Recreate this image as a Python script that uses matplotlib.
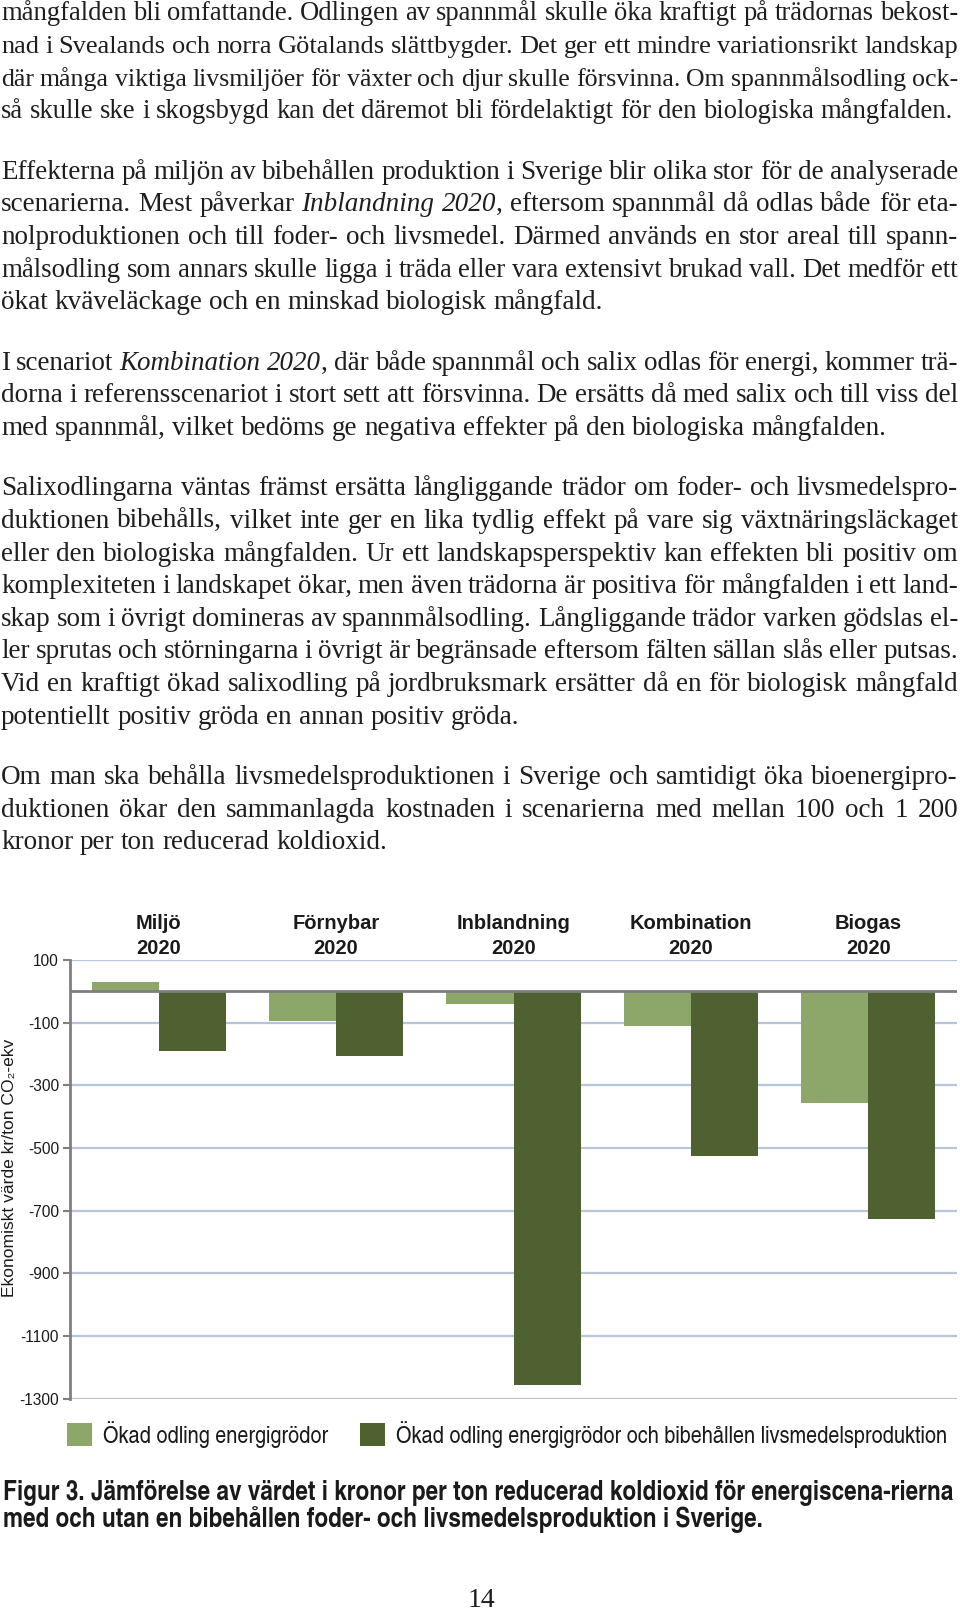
import matplotlib
matplotlib.use("Agg")
import matplotlib.pyplot as plt
import matplotlib.transforms as mtransforms
import numpy as np
from matplotlib import font_manager

W, H = 960, 1612

# chart data
categories = ["Miljö\n2020", "Förnybar\n2020", "Inblandning\n2020", "Kombination\n2020", "Biogas\n2020"]
energy_only = [30, -95, -40, -110, -355]
energy_and_food = [-190, -205, -1255, -525, -725]
series_names = ["Ökad odling energigrödor",
                "Ökad odling energigrödor och bibehållen livsmedelsproduktion"]
y_ticks = [100, -100, -300, -500, -700, -900, -1100, -1300]
y_title = "Ekonomiskt värde kr/ton CO₂-ekv"
caption = ["Figur 3. Jämförelse av värdet i kronor per ton reducerad koldioxid för energiscena-rierna",
           "med och utan en bibehållen foder- och livsmedelsproduktion i Sverige."]
page_no = "14"

# body text, one entry per printed line, *...* marks italic
paragraphs = [
    ["mångfalden bli omfattande. Odlingen av spannmål skulle öka kraftigt på trädornas bekost-",
     "nad i Svealands och norra Götalands slättbygder. Det ger ett mindre variationsrikt landskap",
     "där många viktiga livsmiljöer för växter och djur skulle försvinna. Om spannmålsodling ock-",
     "så skulle ske i skogsbygd kan det däremot bli fördelaktigt för den biologiska mångfalden."],
    ["Effekterna på miljön av bibehållen produktion i Sverige blir olika stor för de analyserade",
     "scenarierna. Mest påverkar *Inblandning 2020*, eftersom spannmål då odlas både för eta-",
     "nolproduktionen och till foder- och livsmedel. Därmed används en stor areal till spann-",
     "målsodling som annars skulle ligga i träda eller vara extensivt brukad vall. Det medför ett",
     "ökat kväveläckage och en minskad biologisk mångfald."],
    ["I scenariot *Kombination 2020*, där både spannmål och salix odlas för energi, kommer trä-",
     "dorna i referensscenariot i stort sett att försvinna. De ersätts då med salix och till viss del",
     "med spannmål, vilket bedöms ge negativa effekter på den biologiska mångfalden."],
    ["Salixodlingarna väntas främst ersätta långliggande trädor om foder- och livsmedelspro-",
     "duktionen bibehålls, vilket inte ger en lika tydlig effekt på vare sig växtnäringsläckaget",
     "eller den biologiska mångfalden. Ur ett landskapsperspektiv kan effekten bli positiv om",
     "komplexiteten i landskapet ökar, men även trädorna är positiva för mångfalden i ett land-",
     "skap som i övrigt domineras av spannmålsodling. Långliggande trädor varken gödslas el-",
     "ler sprutas och störningarna i övrigt är begränsade eftersom fälten sällan slås eller putsas.",
     "Vid en kraftigt ökad salixodling på jordbruksmark ersätter då en för biologisk mångfald",
     "potentiellt positiv gröda en annan positiv gröda."],
    ["Om man ska behålla livsmedelsproduktionen i Sverige och samtidigt öka bioenergipro-",
     "duktionen ökar den sammanlagda kostnaden i scenarierna med mellan 100 och 1 200",
     "kronor per ton reducerad koldioxid."],
]

LIGHT = "#8da66a"
DARK = "#4f6131"
TEXT = "#1e1e1e"

names = {f.name for f in font_manager.fontManager.ttflist}
SERIF = "Liberation Serif" if "Liberation Serif" in names else "DejaVu Serif"
SANS = "Liberation Sans" if "Liberation Sans" in names else "DejaVu Sans"
NARROW = "TeX Gyre Heros Cn" if "TeX Gyre Heros Cn" in names else SANS

fig = plt.figure(figsize=(W / 100, H / 100), dpi=100)
renderer = fig.canvas.get_renderer()


def fx(px):
    return px / W


def fy(py):
    return 1 - py / H


def text_width(s, **kw):
    t = fig.text(0, 0, s, **kw)
    w = t.get_window_extent(renderer).width
    t.remove()
    return w


def parse_line(line):
    words, cur = [], []
    for k, seg in enumerate(line.split("*")):
        ital = k % 2 == 1
        for j, p in enumerate(seg.split(" ")):
            if j > 0 and cur:
                words.append(cur)
                cur = []
            if p:
                cur.append((p, ital))
    if cur:
        words.append(cur)
    return words


def word_width(word, size):
    return sum(text_width(p, fontfamily=SERIF, fontsize=size,
                          fontstyle="italic" if it else "normal")
               for p, it in word)


# --- body text, justified; a line that is too long is set a touch smaller ---
X0, X1 = 1, 958
BODY = 19.5
MIN_SPACE = 0.22
line_gap, para_gap = 32.6, 27.9
y = 20.5
for para in paragraphs:
    for i, line in enumerate(para):
        ws = parse_line(line)
        last = i == len(para) - 1
        size = BODY
        widths = [word_width(w, size) for w in ws]
        space = (0.25 if last else MIN_SPACE) * size * 100 / 72
        natural = sum(widths) + space * (len(ws) - 1)
        if natural > X1 - X0:
            size = size * (X1 - X0 - 2) / natural
            widths = [word_width(w, size) for w in ws]
        if not last and len(ws) > 1:
            gap = (X1 - X0 - sum(widths)) / (len(ws) - 1)
        else:
            gap = 0.25 * size * 100 / 72
        x = X0
        for w, ww in zip(ws, widths):
            xx = x
            for p, it in w:
                t = fig.text(fx(xx), fy(y), p, fontfamily=SERIF, fontsize=size,
                             fontstyle="italic" if it else "normal", color=TEXT,
                             ha="left", va="baseline")
                xx += t.get_window_extent(renderer).width
            x += ww + gap
        y += line_gap
    y += para_gap

# --- chart ---
ax_top, ax_bot, ax_left, ax_right = 960, 1398.7, 70, 957
ax = fig.add_axes([fx(ax_left), fy(ax_bot), (ax_right - ax_left) / W, (ax_bot - ax_top) / H])
xpos = np.arange(len(categories))
bw = 0.378
b1 = ax.bar(xpos - bw / 2, energy_only, bw, color=LIGHT, zorder=2, label=series_names[0])
b2 = ax.bar(xpos + bw / 2, energy_and_food, bw, color=DARK, zorder=2, label=series_names[1])
ax.set_xlim(-0.5, len(categories) - 0.5)
ax.set_ylim(-1300, 100)
ax.set_yticks(y_ticks)
ax.set_yticklabels([str(v) for v in y_ticks], fontfamily=SANS, fontsize=11.2, color="#1a1a1a")
ax.set_xticks([])
ax.yaxis.grid(True, color="#b7c5da", lw=1.6)
ax.set_axisbelow(True)
ax.axhline(0, color="#7f7f7f", lw=2, zorder=3)
for s in ["top", "right", "bottom"]:
    ax.spines[s].set_visible(False)
ax.spines["left"].set_color("#7f7f7f")
ax.spines["left"].set_linewidth(2)
ax.tick_params(axis="y", length=5, width=1.5, color="#7f7f7f", pad=3)

trans = mtransforms.blended_transform_factory(ax.transData, ax.transAxes)
for i, lab in enumerate(categories):
    ax.text(i, 1.054, lab, transform=trans, ha="center", va="center",
            fontfamily=SANS, fontweight="bold", fontsize=14.5, linespacing=1.38,
            color="#1a1a1a")

fig.text(fx(10), fy(1168), y_title, rotation=90, ha="center", va="center",
         fontfamily=[SANS, "DejaVu Sans"], fontsize=12.6, color="#1a1a1a")

# --- legend ---
leg_target = 947 - 393
leg_size = 16 * leg_target / text_width(series_names[1], fontfamily=NARROW, fontsize=16)
leg_px = leg_size * 100 / 72
w1 = text_width(series_names[0], fontfamily=NARROW, fontsize=leg_size)
colspace = (360 - (103 + w1)) / leg_px
leg = fig.legend(handles=[b1, b2], loc="upper left", bbox_to_anchor=(fx(67), fy(1421)),
                 ncol=2, frameon=False, borderpad=0, borderaxespad=0,
                 handlelength=25 / leg_px, handleheight=25 / leg_px,
                 handletextpad=11 / leg_px, columnspacing=colspace,
                 prop={"family": NARROW, "size": leg_size})
for t in leg.get_texts():
    t.set_color("#1a1a1a")

# --- caption ---
cap_size = 15 * (957 - 3) / text_width(caption[0], fontfamily=NARROW, fontweight="bold", fontsize=15)
for k, line in enumerate(caption):
    fig.text(fx(3), fy(1500 + 27 * k), line, fontfamily=NARROW, fontweight="bold",
             fontsize=cap_size, ha="left", va="baseline", color="#1a1a1a")

fig.text(fx(481), fy(1607), page_no, fontfamily=SERIF, fontsize=20, ha="center",
         va="baseline", color=TEXT)

fig.savefig("out.png", dpi=100)
